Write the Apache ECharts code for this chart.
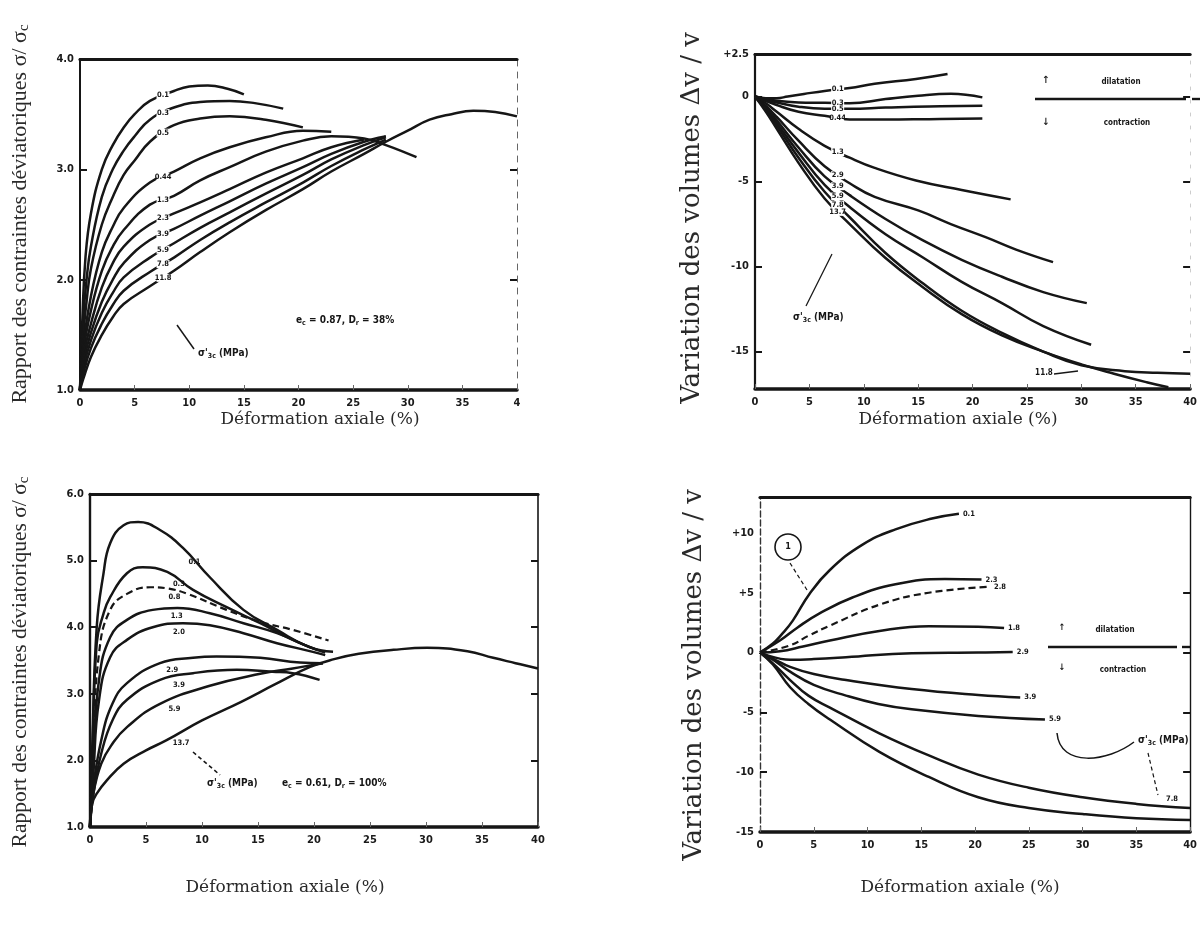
<!DOCTYPE html>
<html>
<head>
<meta charset="utf-8">
<title>Essais triaxiaux - sable lâche et dense</title>
<script src="https://cdn.jsdelivr.net/npm/echarts@6.0.0/dist/echarts.min.js"></script>
<style>
  html, body { margin: 0; padding: 0; background: #ffffff; }
  #main { width: 1200px; height: 929px; }
</style>
</head>
<body>
<div id="main"></div>
<script>
// σ'3c (MPa) de chaque courbe, et courbes [déformation axiale %, valeur]

// sable lâche : rapport des contraintes
const pressLooseRatio = ['0.1', '0.3', '0.5', '0.44', '1.3', '2.3', '3.9', '5.9', '7.8', '11.8'];
const ratioLoose = [
  [[0,1.0],[0.2,1.6],[0.5,2.2],[1,2.6],[2,3.0],[3,3.22],[4,3.38],[5,3.5],[6.4,3.62],[8.6,3.71],[10,3.75],[11.7,3.76],[13.5,3.73],[15,3.68]],
  [[0,1.0],[0.3,1.65],[0.6,2.0],[1,2.3],[2,2.75],[3,3.0],[4,3.17],[5,3.3],[6.4,3.45],[8.6,3.56],[11,3.61],[13.7,3.62],[16,3.6],[18.6,3.55]],
  [[0,1.0],[0.3,1.5],[0.6,1.8],[1,2.1],[2,2.5],[3,2.75],[4,2.95],[5,3.08],[6.4,3.25],[8.6,3.4],[11,3.46],[13.7,3.48],[17,3.45],[20.4,3.38]],
  [[0,1.0],[0.3,1.4],[1,1.85],[2,2.25],[3,2.48],[4,2.65],[6.4,2.88],[8.6,2.98],[11,3.1],[13.7,3.2],[17,3.29],[20.4,3.35],[23,3.34]],
  [[0,1.0],[0.3,1.35],[1,1.72],[2,2.08],[3,2.3],[4,2.45],[6.4,2.68],[8.6,2.76],[11,2.9],[13.7,3.02],[17,3.16],[20.4,3.26],[23,3.3],[26,3.28],[28,3.22],[30.8,3.11]],
  [[0,1.0],[0.3,1.3],[1,1.6],[2,1.93],[3,2.15],[4,2.3],[6.4,2.5],[8.6,2.6],[11,2.7],[13.7,2.82],[17,2.97],[20.4,3.1],[23,3.2],[26,3.27]],
  [[0,1.0],[0.3,1.25],[1,1.52],[2,1.8],[3,2.0],[4,2.15],[6.4,2.36],[8.6,2.46],[11,2.58],[13.7,2.71],[17,2.87],[20.4,3.02],[23,3.14],[26,3.25],[28,3.3]],
  [[0,1.0],[0.3,1.2],[1,1.45],[2,1.7],[3,1.88],[4,2.02],[6.4,2.2],[8.6,2.33],[11,2.47],[13.7,2.61],[17,2.78],[20.4,2.95],[23,3.09],[26,3.22],[28,3.29]],
  [[0,1.0],[0.3,1.15],[1,1.38],[2,1.6],[3,1.77],[4,1.9],[6.4,2.07],[8.6,2.2],[11,2.36],[13.7,2.52],[17,2.7],[20.4,2.88],[23,3.03],[26,3.18],[28,3.27]],
  [[0,1.0],[0.3,1.1],[1,1.3],[2,1.5],[3,1.66],[4,1.78],[6.4,1.94],[8.6,2.08],[11,2.25],[13.7,2.43],[17,2.63],[20.4,2.82],[23,2.98],[26,3.14],[28,3.25],[30,3.35],[32,3.45],[34,3.5],[36,3.53],[38,3.52],[40,3.48]]
];

// sable lâche : variation de volume
const pressLooseVol = ['0.1', '0.3', '0.5', '0.44', '1.3', '2.9', '3.9', '5.9', '7.8', '13.7'];
const volLoose = [
  [[0,0],[1,-0.1],[2,-0.1],[3,0],[4.5,0.15],[6.4,0.33],[8.7,0.5],[11,0.75],[14.8,1.03],[17.7,1.32]],
  [[0,0],[2,-0.25],[4,-0.35],[6.4,-0.37],[8.7,-0.4],[12,-0.15],[15,0.05],[18,0.16],[20.9,-0.05]],
  [[0,0],[2,-0.35],[4,-0.6],[6.4,-0.72],[8.7,-0.72],[12,-0.65],[16,-0.58],[20.9,-0.54]],
  [[0,0],[2,-0.5],[4,-0.9],[6.4,-1.13],[8.7,-1.35],[12,-1.35],[16,-1.33],[20.9,-1.3]],
  [[0,0],[1,-0.4],[2,-0.9],[4,-1.9],[6.4,-2.9],[8.7,-3.6],[11,-4.2],[14.8,-4.94],[19,-5.5],[23.5,-6.05]],
  [[0,0],[1,-0.55],[2,-1.2],[4,-2.6],[6.4,-4.1],[8.7,-5.1],[11,-5.9],[15,-6.7],[18,-7.5],[21.2,-8.27],[24,-9.0],[27.4,-9.74]],
  [[0,0],[1,-0.65],[2,-1.4],[4,-3.0],[6.4,-4.7],[8.7,-5.8],[12,-7.2],[15.4,-8.45],[19,-9.6],[22.7,-10.6],[26.5,-11.5],[30.5,-12.15]],
  [[0,0],[1,-0.7],[2,-1.55],[4,-3.3],[6.4,-5.2],[8.7,-6.5],[12,-8.1],[15.4,-9.45],[19,-10.9],[22.7,-12.15],[26.5,-13.5],[30.9,-14.6]],
  [[0,0],[1,-0.8],[2,-1.7],[4,-3.6],[6.4,-5.6],[8.7,-7.1],[12,-9.2],[15.4,-10.97],[19,-12.6],[22.7,-13.9],[26.5,-15.0],[30,-15.8],[34,-16.15],[37,-16.25],[40,-16.3]],
  [[0,0],[1,-0.9],[2,-1.9],[4,-3.9],[6.4,-6.0],[8.7,-7.5],[12,-9.5],[15.4,-11.2],[19,-12.8],[22.7,-14.05],[26.5,-15.0],[30,-15.75],[33,-16.3],[36,-16.8],[38,-17.1]]
];

// sable dense : rapport des contraintes
const pressDenseRatio = ['0.1', '0.3', '0.8', '1.3', '2.0', '2.9', '3.9', '5.9', '13.7'];
const ratioDense = [
  [[0,1.0],[0.2,2.2],[0.6,4.0],[1.2,4.8],[1.8,5.26],[3,5.53],[4.3,5.58],[6.25,5.46],[8.3,5.19],[10.7,4.75],[13.7,4.26],[16.7,3.96],[19.6,3.7],[21.7,3.63]],
  [[0,1.0],[0.2,2.0],[0.6,3.76],[1.2,4.2],[1.8,4.45],[3.3,4.81],[4.7,4.9],[6.9,4.83],[9.2,4.56],[12.2,4.3],[15.2,4.06],[18.1,3.81],[20.3,3.66]],
  [[0,1.0],[0.3,2.2],[0.8,3.6],[1.8,4.26],[3.3,4.5],[5.4,4.6],[7,4.58],[8.7,4.5],[12.2,4.26],[15.2,4.08],[18.1,3.96],[21.3,3.8]],
  [[0,1.0],[0.3,2.0],[0.8,3.2],[1.8,3.85],[3.3,4.11],[5.6,4.26],[7.8,4.29],[10.7,4.21],[13.7,4.06],[16.7,3.91],[19.6,3.7],[21,3.62]],
  [[0,1.0],[0.3,1.8],[0.8,2.9],[1.8,3.55],[3.3,3.81],[5.6,4.0],[8.3,4.06],[10.7,4.03],[13.7,3.91],[16.7,3.76],[19.9,3.63],[21,3.58]],
  [[0,1.0],[0.3,1.6],[1,2.3],[2,2.85],[3.3,3.16],[6.25,3.46],[9.2,3.54],[11.3,3.56],[15.2,3.54],[18.75,3.47],[20.8,3.46]],
  [[0,1.0],[0.3,1.5],[1,2.1],[2,2.6],[3.3,2.91],[6.25,3.21],[9.2,3.31],[13.1,3.36],[16.3,3.33],[18.1,3.31],[20.5,3.21]],
  [[0,1.0],[0.3,1.5],[1,1.95],[2,2.25],[3.3,2.5],[6.25,2.85],[10.7,3.12],[15.2,3.3],[18.1,3.38],[20.8,3.46]],
  [[0,1.0],[0.2,1.35],[0.6,1.5],[1.5,1.7],[3,1.95],[5,2.15],[6.8,2.3],[10,2.6],[13.5,2.88],[16.5,3.14],[19.6,3.4],[21.8,3.52],[24,3.6],[27.1,3.66],[30.1,3.69],[33.7,3.64],[36,3.54],[38,3.46],[40,3.38]]
];

// sable dense : variation de volume
const pressDenseVol = ['0.1', '2.3', '2.8', '1.8', '2.9', '3.9', '5.9', '', ''];
const volDense = [
  [[0,0],[1.2,0.75],[2,1.5],[3.05,2.67],[4.6,4.9],[6.5,6.9],[9.5,9.0],[12.6,10.3],[16,11.2],[18.5,11.6]],
  [[0,0],[1.85,1.0],[3.5,2.1],[5.5,3.25],[8.6,4.6],[12.6,5.7],[17.2,6.15],[20.6,6.1]],
  [[0,0],[2.8,0.6],[4.5,1.4],[6.5,2.25],[11.1,4.0],[15.7,5.0],[21.4,5.5]],
  [[0,0],[1.85,0.1],[4,0.5],[6.5,1.0],[11.1,1.8],[15.7,2.2],[20.3,2.15],[22.7,2.05]],
  [[0,0],[2.8,-0.6],[5,-0.55],[8,-0.4],[14.1,-0.05],[20.3,0],[23.5,0.05]],
  [[0,0],[1.2,-0.5],[2.8,-1.2],[5,-1.8],[8,-2.3],[14.1,-3.05],[20.3,-3.55],[24.2,-3.75]],
  [[0,0],[1.2,-0.6],[2.8,-1.6],[5,-2.7],[8,-3.6],[11,-4.3],[14.1,-4.75],[20.3,-5.3],[26.5,-5.6]],
  [[0,0],[1.2,-0.9],[2.8,-2.3],[4.5,-3.6],[6.5,-4.6],[11.1,-6.75],[15.7,-8.6],[20.3,-10.2],[25,-11.3],[30,-12.1],[35,-12.65],[40,-13.0]],
  [[0,0],[1.2,-1.0],[2.8,-2.9],[4.5,-4.3],[6.5,-5.6],[11.1,-8.3],[15.7,-10.4],[20.3,-12.1],[25,-13.0],[30,-13.5],[35,-13.85],[40,-14.0]]
];

// graduations
const volLooseTicks = [2.5, 0, -5, -10, -15];
const volDenseTicks = [10, 5, 0, -5, -10, -15];
const xTitle = 'Déformation axiale (%)';

const INK = '#161616';
const tickFont = 'DejaVu Sans Condensed, DejaVu Sans, sans-serif';

var chart = echarts.init(document.getElementById('main'), null, {renderer: 'canvas'});

// valeur d'une courbe à une déformation donnée (pour placer les étiquettes)
function valueAt(pts, x) {
  for (var i = 1; i < pts.length; i++) {
    if (x <= pts[i][0]) {
      var a = pts[i - 1], b = pts[i];
      return a[1] + (b[1] - a[1]) * (x - a[0]) / (b[0] - a[0]);
    }
  }
  return pts[pts.length - 1][1];
}

function curve(pts, name, panel, extra) {
  return Object.assign({
    type: 'line',
    name: name,
    data: pts,
    xAxisIndex: panel * 2,
    yAxisIndex: panel * 2,
    smooth: 0.45,
    showSymbol: false,
    lineStyle: {color: INK, width: 2.5},
    itemStyle: {color: INK},
    silent: true,
    animation: false
  }, extra || {});
}

// étiquette posée dans la colonne (trou blanc dans la courbe)
function columnLabel(pts, name, at) {
  return {
    symbol: 'rect',
    symbolSize: [13, 8],
    itemStyle: {color: '#ffffff'},
    animation: false,
    label: {
      show: true, position: 'inside', formatter: name,
      fontSize: 7.5, fontWeight: 'bold', color: INK, fontFamily: tickFont
    },
    data: [{coord: [at, valueAt(pts, at)]}]
  };
}

var series = [];
ratioLoose.forEach(function (pts, i) {
  series.push(curve(pts, pressLooseRatio[i], 0, {markPoint: columnLabel(pts, pressLooseRatio[i], 7.6)}));
});
volLoose.forEach(function (pts, i) {
  series.push(curve(pts, pressLooseVol[i], 1, {markPoint: columnLabel(pts, pressLooseVol[i], 7.6)}));
});
var denseLabelAt = [8.8, 7.4, 7.0, 7.2, 7.4, 6.8, 7.4, 7.0, 7.6];
ratioDense.forEach(function (pts, i) {
  var extra = {
    markPoint: {
      symbol: 'circle', symbolSize: 1, itemStyle: {color: 'rgba(0,0,0,0)'}, animation: false,
      label: {show: true, position: 'inside', offset: [6, 8], formatter: pressDenseRatio[i],
        fontSize: 7.5, fontWeight: 'bold', color: INK, fontFamily: tickFont},
      data: [{coord: [denseLabelAt[i], valueAt(pts, denseLabelAt[i])]}]
    }
  };
  if (i === 2) extra.lineStyle = {color: INK, width: 2.2, type: [7, 4]};
  series.push(curve(pts, pressDenseRatio[i], 2, extra));
});
volDense.forEach(function (pts, i) {
  var extra = {
    endLabel: {show: pressDenseVol[i] !== '', formatter: pressDenseVol[i], fontSize: 7.5,
      fontWeight: 'bold', color: INK, fontFamily: tickFont, distance: 4}
  };
  if (i === 2) extra.lineStyle = {color: INK, width: 2.2, type: [7, 4]};
  series.push(curve(pts, pressDenseVol[i], 3, extra));
});

// grilles (disposition de la planche)
var grids = [
  {left: 80, top: 59, width: 437, height: 331},
  {left: 755, top: 54, width: 443, height: 335},
  {left: 90, top: 494, width: 448, height: 333},
  {left: 760, top: 497, width: 433, height: 335}
];
var yRanges = [[1, 4], [-17.2, 2.5], [1, 6], [-15, 13]];
var yCustom = [null, volLooseTicks, null, volDenseTicks];
var rightStyle = [
  {color: '#666', width: 1, type: [6, 6]},
  {color: '#999', width: 0.5, type: [3, 10]},
  {color: INK, width: 1.6},
  {color: INK, width: 1.4}
];
var leftStyle = [
  {color: INK, width: 2},
  {color: INK, width: 2.2},
  {color: INK, width: 2.4},
  {color: '#333', width: 1.4, type: [6, 3]}
];

var labelStyle = {fontFamily: tickFont, fontWeight: 'bold', fontSize: 11, color: '#1a1a1a'};

var xAxes = [], yAxes = [];
grids.forEach(function (g, i) {
  xAxes.push({
    gridIndex: i, type: 'value', min: 0, max: 40, interval: 5, position: 'bottom',
    axisLine: {show: true, onZero: false, lineStyle: {color: INK, width: 3.5}},
    axisTick: {show: true, inside: true, length: 5, lineStyle: {color: '#666', width: 1}},
    axisLabel: Object.assign({margin: 8, formatter: function (v) {
      return (i === 0 && v === 40) ? '4' : String(v);
    }}, labelStyle),
    splitLine: {show: false}
  });
  xAxes.push({
    gridIndex: i, type: 'value', min: 0, max: 40, position: 'top',
    axisLine: {show: true, onZero: false, lineStyle: {color: INK, width: 3.2}},
    axisTick: {show: false}, axisLabel: {show: false}, splitLine: {show: false}
  });
  var yl = {
    gridIndex: i, type: 'value', min: yRanges[i][0], max: yRanges[i][1], position: 'left',
    axisLine: {show: true, onZero: false, lineStyle: leftStyle[i]},
    axisTick: {show: true, inside: true, length: 7, lineStyle: {color: INK, width: 2}},
    axisLabel: Object.assign({margin: 6}, labelStyle),
    splitLine: {show: false}
  };
  var yr = {
    gridIndex: i, type: 'value', min: yRanges[i][0], max: yRanges[i][1], position: 'right',
    axisLine: {show: true, onZero: false, lineStyle: rightStyle[i]},
    axisTick: {show: true, inside: true, length: 7, lineStyle: {color: INK, width: 2}},
    axisLabel: {show: false},
    splitLine: {show: false}
  };
  if (yCustom[i]) {
    yl.axisLabel.customValues = yCustom[i];
    yl.axisLabel.formatter = function (v) { return v > 0 ? '+' + v : String(v); };
    yl.axisTick.customValues = yCustom[i].filter(function (v) { return v < 3; }).slice(1);
    yr.axisTick.customValues = yCustom[i].slice(1);
    yr.axisLabel.customValues = yCustom[i];
  } else {
    yl.interval = 1;
    yr.interval = 1;
    yl.axisLabel.formatter = function (v) { return v.toFixed(1); };
  }
  yAxes.push(yl, yr);
});

// textes et repères annotés
var serifA = 'Liberation Serif, Times New Roman, serif';
var serifB = 'DejaVu Serif, serif';
function vTitle(x, y, rich, text, size, family) {
  return {
    type: 'text', x: x, y: y, rotation: Math.PI / 2, silent: true,
    style: {text: text, font: size + 'px ' + family, fill: '#2a2a2a',
      align: 'center', verticalAlign: 'middle', rich: rich}
  };
}
var sub = {c: {fontSize: 15, fontFamily: serifA, fill: '#2a2a2a', verticalAlign: 'bottom', padding: [9, 0, 0, 0]}};
var annRich = {
  n: {fontSize: 10, fontWeight: 'bold', fontFamily: tickFont, fill: INK},
  s: {fontSize: 7, fontWeight: 'bold', fontFamily: tickFont, fill: INK, padding: [6, 0, 0, 0]}
};
function note(x, y, text) {
  return {type: 'text', x: x, y: y, silent: true,
    style: {text: text, rich: annRich, align: 'left', verticalAlign: 'middle'}};
}
function small(x, y, text, size, align) {
  return {type: 'text', x: x, y: y, silent: true,
    style: {text: text, font: 'bold ' + (size || 9) + 'px ' + tickFont, fill: INK,
      align: align || 'center', verticalAlign: 'middle'}};
}
function seg(x1, y1, x2, y2, w, dash) {
  return {type: 'line', silent: true, shape: {x1: x1, y1: y1, x2: x2, y2: y2},
    style: {stroke: INK, lineWidth: w || 1.5, lineDash: dash || null}};
}
function hTitle(x, y) {
  return {type: 'text', x: x, y: y, silent: true,
    style: {text: xTitle, font: '17px ' + serifB, fill: '#2a2a2a', align: 'center', verticalAlign: 'middle'}};
}
var sigma = '{n|σ\'}{s|3c}{n| (MPa)}';

var graphics = [
  vTitle(20, 214, sub, 'Rapport des contraintes déviatoriques σ/ σ{c|c}', 22, serifA),
  vTitle(20, 662, sub, 'Rapport des contraintes déviatoriques σ/ σ{c|c}', 21.5, serifA),
  vTitle(692, 218, null, 'Variation des volumes Δv / v', 26, serifB),
  vTitle(694, 675, null, 'Variation des volumes Δv / v', 26, serifB),
  hTitle(320, 420), hTitle(958, 420), hTitle(285, 888), hTitle(960, 888),

  // sable lâche, rapport
  note(296, 320, '{n|e}{s|c}{n| = 0.87, D}{s|r}{n| = 38%}'),
  note(198, 353, sigma),
  seg(177, 325, 194, 349, 1.5),

  // sable lâche, volume
  note(793, 317, sigma),
  seg(806, 306, 832, 254, 1.2),
  small(1046, 80, '↑', 10), small(1121, 82, 'dilatation', 8),
  seg(1035, 99, 1186, 99, 2.4), seg(1192, 99, 1200, 99, 2.4),
  small(1046, 122, '↓', 10), small(1127, 123, 'contraction', 8),
  small(1044, 373, '11.8', 8), seg(1054, 374, 1078, 371, 1.3),

  // sable dense, rapport
  note(207, 783, sigma),
  note(282, 783, '{n|e}{s|c}{n| = 0.61, D}{s|r}{n| = 100%}'),
  seg(193, 752, 220, 775, 1.6, [4, 3]),

  // sable dense, volume
  {type: 'circle', silent: true, shape: {cx: 788, cy: 547, r: 13},
    style: {stroke: INK, lineWidth: 1.6, fill: 'none'}},
  small(788, 547, '1', 9),
  seg(790, 563, 807, 590, 1.2, [4, 3]),
  small(1062, 628, '↑', 9), small(1115, 630, 'dilatation', 8),
  seg(1048, 647, 1177, 647, 2.4), seg(1182, 647, 1190, 647, 2.4),
  small(1062, 668, '↓', 9), small(1123, 670, 'contraction', 8),
  note(1138, 740, sigma),
  {type: 'bezierCurve', silent: true,
    shape: {x1: 1057, y1: 733, cpx1: 1060, cpy1: 768, cpx2: 1108, cpy2: 762, x2: 1134, y2: 742},
    style: {stroke: INK, lineWidth: 1.5, fill: 'none'}},
  seg(1148, 753, 1158, 795, 1.2, [4, 3]),
  small(1172, 799, '7.8', 7.5)
];

var option = {
  backgroundColor: '#ffffff',
  animation: false,
  grid: grids,
  xAxis: xAxes,
  yAxis: yAxes,
  series: series,
  graphic: graphics
};

option && chart.setOption(option);
</script>
</body>
</html>
